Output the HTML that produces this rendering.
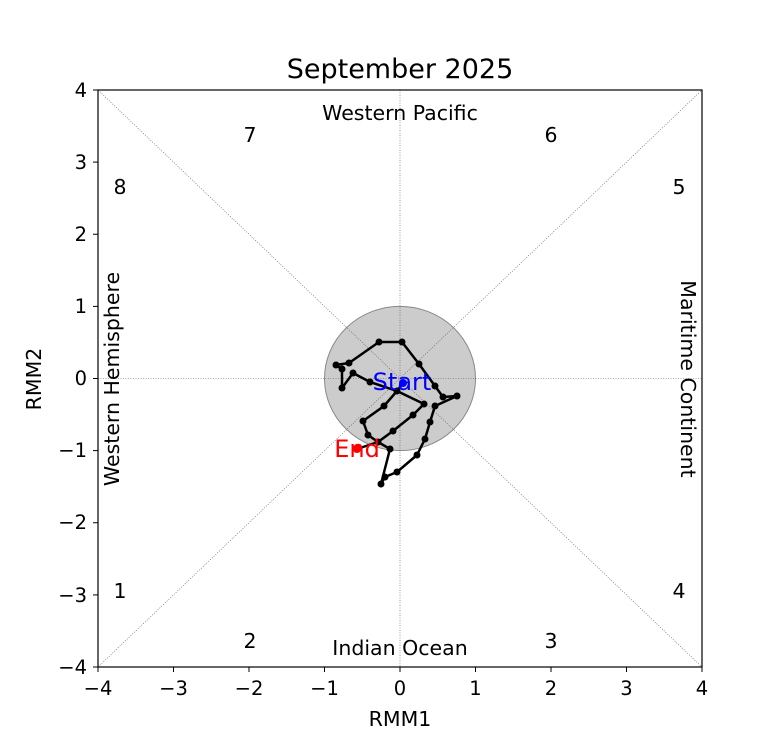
<!DOCTYPE html>
<html><head><style>body{margin:0;background:#fff}</style></head><body>
<svg width="780" height="750" xmlns="http://www.w3.org/2000/svg" font-family="DejaVu Sans, Liberation Sans, sans-serif">
<rect width="780" height="750" fill="#fff"/>
<ellipse cx="400" cy="378.5" rx="75.5" ry="72.1" fill="#bfbfbf" fill-opacity="0.8" stroke="#888" stroke-width="1"/>
<g stroke="#555" stroke-width="0.6" stroke-dasharray="1,1.5">
<line x1="98" y1="90" x2="702" y2="667"/>
<line x1="98" y1="667" x2="702" y2="90"/>
<line x1="400" y1="90" x2="400" y2="667"/>
<line x1="98" y1="378.5" x2="702" y2="378.5"/>
</g>
<rect x="98" y="90" width="604" height="577" fill="none" stroke="#000" stroke-width="1.2"/>
<g stroke="#000" stroke-width="1">
<line x1="98" y1="667" x2="98" y2="672"/><line x1="173.5" y1="667" x2="173.5" y2="672"/><line x1="249" y1="667" x2="249" y2="672"/><line x1="324.5" y1="667" x2="324.5" y2="672"/><line x1="400" y1="667" x2="400" y2="672"/><line x1="475.5" y1="667" x2="475.5" y2="672"/><line x1="551" y1="667" x2="551" y2="672"/><line x1="626.5" y1="667" x2="626.5" y2="672"/><line x1="702" y1="667" x2="702" y2="672"/>
<line x1="93" y1="90" x2="98" y2="90"/><line x1="93" y1="162.1" x2="98" y2="162.1"/><line x1="93" y1="234.25" x2="98" y2="234.25"/><line x1="93" y1="306.4" x2="98" y2="306.4"/><line x1="93" y1="378.5" x2="98" y2="378.5"/><line x1="93" y1="450.6" x2="98" y2="450.6"/><line x1="93" y1="522.75" x2="98" y2="522.75"/><line x1="93" y1="594.9" x2="98" y2="594.9"/><line x1="93" y1="667" x2="98" y2="667"/>
</g>
<g font-size="19.5" text-anchor="middle">
<text x="98" y="695">−4</text><text x="173.5" y="695">−3</text><text x="249" y="695">−2</text><text x="324.5" y="695">−1</text><text x="400" y="695">0</text><text x="475.5" y="695">1</text><text x="551" y="695">2</text><text x="626.5" y="695">3</text><text x="702" y="695">4</text>
</g>
<g font-size="19.5" text-anchor="end">
<text x="87" y="97">4</text><text x="87" y="169">3</text><text x="87" y="241">2</text><text x="87" y="313">1</text><text x="87" y="385">0</text><text x="87" y="457">−1</text><text x="87" y="529">−2</text><text x="87" y="602">−3</text><text x="87" y="674">−4</text>
</g>
<text x="400" y="726" font-size="20.5" text-anchor="middle">RMM1</text>
<text transform="translate(41,379) rotate(-90)" font-size="20.5" text-anchor="middle">RMM2</text>
<text x="400" y="78" font-size="27" text-anchor="middle">September 2025</text>
<g font-size="20.5" text-anchor="middle">
<text x="250" y="142">7</text><text x="551" y="142">6</text><text x="120" y="194">8</text><text x="679" y="194">5</text>
<text x="120" y="598">1</text><text x="679" y="598">4</text><text x="250" y="648">2</text><text x="551" y="648">3</text>
<text x="400" y="120">Western Pacific</text><text x="400" y="655">Indian Ocean</text>
<text transform="translate(119,379) rotate(-90)">Western Hemisphere</text>
<text transform="translate(681,379) rotate(90)">Maritime Continent</text>
</g>
<polyline fill="none" stroke="#000" stroke-width="2.5" stroke-linejoin="round" points="403,383 397,391 384,406 363,421 368,435 378,442 390,449 381,484 385,477 397,472 417,455 425,439 430,422 435,406 457,396 443,397 435,386 419,364 402,342 379,342 349,363 336,365 342,369 342,388 353,373 370,382 397,391 424,404 413,415 393,431 378,442 357,449"/>
<g fill="#000">
<circle cx="397" cy="391" r="3.5"/><circle cx="384" cy="406" r="3.5"/><circle cx="363" cy="421" r="3.5"/><circle cx="368" cy="435" r="3.5"/><circle cx="378" cy="442" r="3.5"/><circle cx="390" cy="449" r="3.5"/><circle cx="381" cy="484" r="3.5"/><circle cx="385" cy="477" r="3.5"/><circle cx="397" cy="472" r="3.5"/><circle cx="417" cy="455" r="3.5"/><circle cx="425" cy="439" r="3.5"/><circle cx="430" cy="422" r="3.5"/><circle cx="435" cy="406" r="3.5"/><circle cx="457" cy="396" r="3.5"/><circle cx="443" cy="397" r="3.5"/><circle cx="435" cy="386" r="3.5"/><circle cx="419" cy="364" r="3.5"/><circle cx="402" cy="342" r="3.5"/><circle cx="379" cy="342" r="3.5"/><circle cx="349" cy="363" r="3.5"/><circle cx="336" cy="365" r="3.5"/><circle cx="342" cy="369" r="3.5"/><circle cx="342" cy="388" r="3.5"/><circle cx="353" cy="373" r="3.5"/><circle cx="370" cy="382" r="3.5"/><circle cx="424" cy="404" r="3.5"/><circle cx="413" cy="415" r="3.5"/><circle cx="393" cy="431" r="3.5"/>
</g>
<circle cx="403" cy="383" r="4" fill="#0000ff"/>
<circle cx="357" cy="449" r="4" fill="#ff0000"/>
<text x="402" y="390" font-size="24" fill="#0000ff" text-anchor="middle">Start</text>
<text x="357" y="457" font-size="24" fill="#ff0000" text-anchor="middle">End</text>
</svg>
</body></html>
